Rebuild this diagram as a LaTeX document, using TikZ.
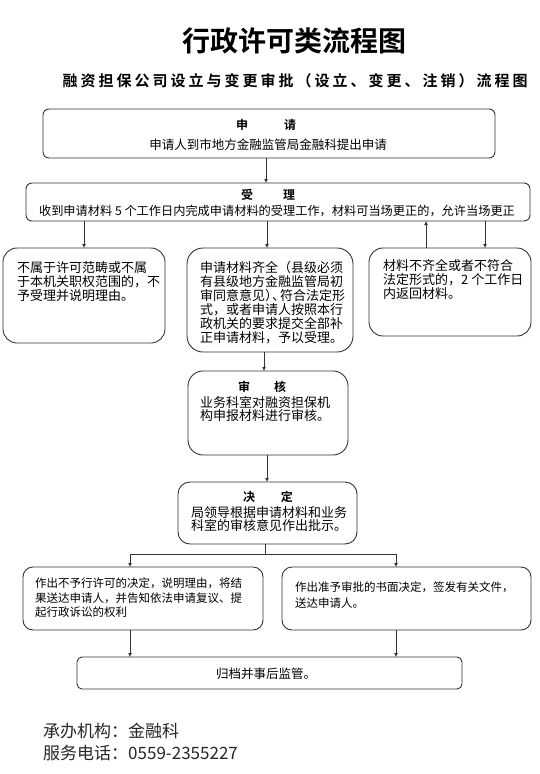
\documentclass[tikz,border=0pt]{standalone}
\usepackage{fontspec}
\setmainfont{Noto Sans CJK SC}
\newfontfamily\cjkb{Noto Sans CJK SC Bold}
\newfontfamily\subt[LetterSpace=20]{Noto Sans CJK SC Bold}
\usetikzlibrary{arrows.meta}
\definecolor{ln}{HTML}{333333}
\begin{document}
\begin{tikzpicture}[x=1pt,y=-1pt,
  box/.style={draw=ln,line width=0.9pt,anchor=north west,inner sep=0pt,outer sep=0pt},
  txt/.style={anchor=north west,inner sep=0pt,align=left,font=\fontsize{13}{14}\selectfont},
  head/.style={inner sep=0pt,font=\cjkb\fontsize{12}{14}\selectfont},
  arr/.style={draw=ln,line width=0.8pt,-{Latex[length=4pt,width=4pt]}},
  ln/.style={draw=ln,line width=0.8pt}]
\useasboundingbox (0,0) rectangle (539,774);
\fill[white] (0,0) rectangle (539,774);
% titles
\node[inner sep=0pt,font=\cjkb\fontsize{28}{30}\selectfont] (title) at (294,41) {行政许可类流程图};
\node[inner sep=0pt,font=\subt\fontsize{15}{16}\selectfont] (subtitle) at (295,81) {融资担保公司设立与变更审批（设立、变更、注销）流程图};
% boxes
\node[box,rounded corners=6pt,minimum width=452pt,minimum height=49pt] (b1) at (43,109) {};
\node[box,rounded corners=6pt,minimum width=504pt,minimum height=38pt] (b2) at (26,183) {};
\node[box,rounded corners=14pt,minimum width=162pt,minimum height=95pt] (b3) at (3,248) {};
\node[box,rounded corners=16pt,minimum width=166pt,minimum height=104pt] (b4) at (187,248) {};
\node[box,rounded corners=14pt,minimum width=162pt,minimum height=88pt] (b5) at (369,248) {};
\node[box,rounded corners=15pt,minimum width=160pt,minimum height=84pt] (b6) at (188,371) {};
\node[box,rounded corners=12pt,minimum width=179pt,minimum height=62pt] (b7) at (178,482) {};
\node[box,rounded corners=10pt,minimum width=240pt,minimum height=63pt] (b8) at (23,567) {};
\node[box,rounded corners=10pt,minimum width=249pt,minimum height=63pt] (b9) at (282,567) {};
\node[box,rounded corners=5pt,minimum width=385pt,minimum height=32pt] (b10) at (77,657) {};
% texts
\node[head] (h1) at (266,125) {申\hspace{36pt}请};
\node[inner sep=0pt,font=\fontsize{12.5}{14}\selectfont] (t1) at (268,145) {申请人到市地方金融监管局金融科提出申请};
\node[head] (h2) at (268,195) {受\hspace{30pt}理};
\node[inner sep=0pt,font=\fontsize{12.2}{14}\selectfont] (t2) at (277,211) {收到申请材料 5 个工作日内完成申请材料的受理工作，材料可当场更正的，允许当场更正};
\node[txt] (t3) at (17,261) {不属于许可范畴或不属\\于本机关职权范围的，不\\予受理并说明理由。};
\node[txt] (t4) at (200,261) {申请材料齐全（县级必须\\有县级地方金融监管局初\\审同意意见）\kern-6pt、\kern-5pt符合法定形\\式，或者申请人按照本行\\政机关的要求提交全部补\\正申请材料，予以受理。};
\node[txt] (t5) at (383,259) {材料不齐全或者不符合\\法定形式的，2 个工作日\\内返回材料。};
\node[head] (h6) at (262,387) {审\hspace{24pt}核};
\node[txt,font=\fontsize{13}{13.5}\selectfont] (t6) at (200,396) {业务科室对融资担保机\\构申报材料进行审核。};
\node[head] (h7) at (268,497) {决\hspace{26pt}定};
\node[txt,font=\fontsize{13}{13.5}\selectfont] (t7) at (191,506) {局领导根据申请材料和业务\\科室的审核意见作出批示。};
\node[txt,font=\fontsize{11.5}{14.5}\selectfont] (t8) at (35,578) {作出不予行许可的决定，说明理由，将结\\果送达申请人，并告知依法申请复议、提\\起行政诉讼的权利};
\node[txt,font=\fontsize{11.5}{16}\selectfont] (t9) at (295,582) {作出准予审批的书面决定，签发有关文件，\\送达申请人。};
\node[inner sep=0pt,font=\fontsize{12.5}{14}\selectfont] (t10) at (266,674) {归档并事后监管。};
% footer
\node[anchor=west,inner sep=0pt,font=\fontsize{17}{20}\selectfont,text=black!85] (f1) at (43,731) {承办机构：金融科};
\node[anchor=west,inner sep=0pt,font=\fontsize{17}{20}\selectfont,text=black!85] (f2) at (43,753) {服务电话：0559-2355227};
% connector x positions
\coordinate (c1) at (266,0);
\coordinate (c2) at (84,0);
\coordinate (c3) at (267,0);
\coordinate (c4) at (426,0);
\coordinate (c5) at (485,0);
\coordinate (c6) at (264,0);
\coordinate (c7) at (267,0);
\coordinate (c8) at (265,0);
\coordinate (cl) at (130,0);
\coordinate (cr) at (396,0);
\coordinate (jy) at (0,554);
% connectors
\draw[arr] (b1.south -| c1) -- (b2.north -| c1);
\draw[arr] (b2.south -| c2) -- (b3.north -| c2);
\draw[arr] (b2.south -| c3) -- (b4.north -| c3);
\draw[arr] (b5.north -| c4) -- (b2.south -| c4);
\draw[arr] (b2.south -| c5) -- (b5.north -| c5);
\draw[arr] (b4.south -| c6) -- (b6.north -| c6);
\draw[arr] (b6.south -| c7) -- (b7.north -| c7);
\draw[ln] (b7.south -| c8) -- (jy -| c8);
\draw[ln] (jy -| cl) -- (jy -| cr);
\draw[arr] (jy -| cl) -- (b8.north -| cl);
\draw[arr] (jy -| cr) -- (b9.north -| cr);
\draw[arr] (b8.south -| cl) -- (b10.north -| cl);
\draw[arr] (b9.south -| cr) -- (b10.north -| cr);
\end{tikzpicture}
\end{document}
